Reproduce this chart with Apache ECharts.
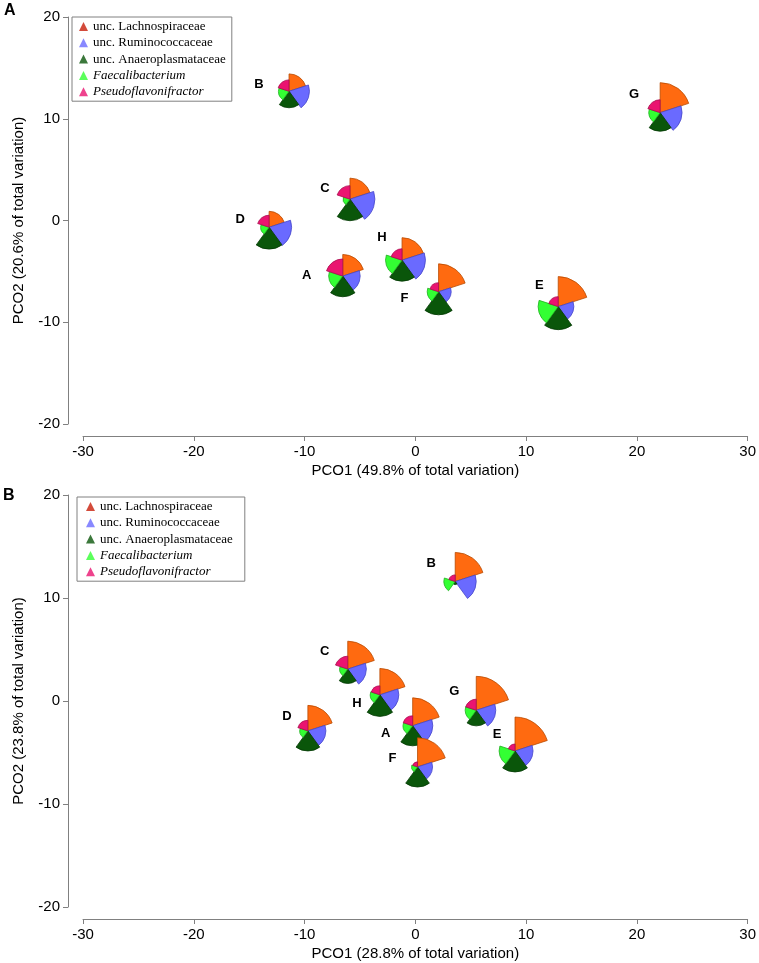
<!DOCTYPE html>
<html><head><meta charset="utf-8">
<script src="https://cdn.jsdelivr.net/npm/echarts@6/dist/echarts.min.js"></script>
<style>html,body{margin:0;padding:0;background:#fff}#c{width:759px;height:963px}</style>
</head><body><div id="c"></div>
<script>
// ---------- data ----------
const taxa = ['unc. Lachnospiraceae','unc. Ruminococcaceae','unc. Anaeroplasmataceae','Faecalibacterium','Pseudoflavonifractor'];
const samples = ['A','B','C','D','E','F','G','H'];
const xTicks = [-30,-20,-10,0,10,20,30];
const yTicks = [-20,-10,0,10,20];

// Panel A (PCO1 49.8 %, PCO2 20.6 %)
const aPCO1 = [-6.55, -11.4, -5.9, -13.2, 12.9, 2.1, 22.1, -1.2];
const aPCO2 = [-5.46, 12.7, 2.1, -0.66, -8.46, -7.0, 10.6, -3.9];
const aLachno  = [0.72, 0.58, 0.70, 0.53, 1.00, 0.93, 1.00, 0.75];
const aRumino  = [0.58, 0.68, 0.83, 0.75, 0.52, 0.42, 0.73, 0.78];
const aAnaero  = [0.69, 0.55, 0.72, 0.73, 0.77, 0.77, 0.62, 0.70];
const aFaecali = [0.47, 0.35, 0.23, 0.28, 0.67, 0.38, 0.38, 0.55];
const aPseudo  = [0.57, 0.38, 0.45, 0.40, 0.33, 0.30, 0.43, 0.38];

// Panel B (PCO1 28.8 %, PCO2 23.8 %)
const bPCO1 = [-0.24, 3.6, -6.1, -9.7, 9.0, 0.2, 5.5, -3.2];
const bPCO2 = [-2.4, 11.6, 3.1, -2.9, -4.85, -6.4, -0.9, 0.6];
const bLachno  = [0.93, 0.97, 0.93, 0.85, 1.13, 0.97, 1.13, 0.88];
const bRumino  = [0.67, 0.70, 0.62, 0.60, 0.60, 0.50, 0.65, 0.63];
const bAnaero  = [0.67, 0.10, 0.48, 0.67, 0.70, 0.67, 0.52, 0.72];
const bFaecali = [0.32, 0.38, 0.27, 0.27, 0.53, 0.20, 0.37, 0.32];
const bPseudo  = [0.33, 0.22, 0.43, 0.35, 0.23, 0.17, 0.37, 0.30];

// ---------- styles / layout ----------
const R_PX = 30; // glyph radius (px) for a value of 1
const FILL   = ['#ff6a10','#6a6aff','#0a560a','#33ff33','#ea1470'];
const STROKE = ['#b84a00','#4646c8','#033803','#20b020','#a80a4c'];
const LEGEND_COL = ['#c81e0a','#6a6aff','#0a560a','#33ff33','#ea1470'];
const labelOffA = [[-36,-1],[-30,-7],[-25,-11],[-29,-8],[-19,-21],[-34,7],[-26,-18],[-20,-23]];
const labelOffB = [[-27,8],[-24,-18],[-23,-18],[-21,-14],[-18,-17],[-25,-8],[-22,-19],[-23,9]];
const FONT = '"Liberation Sans", Arial, sans-serif';

function rows(x, y, s1, s2, s3, s4, s5) {
  return samples.map((s, i) => [x[i], y[i], s1[i], s2[i], s3[i], s4[i], s5[i]]);
}

function glyphRender(offsets) {
  return function (params, api) {
    const i = params.dataIndex;
    const pt = api.coord([api.value(0), api.value(1)]);
    const children = [];
    const step = 2 * Math.PI / 5;
    for (let k = 0; k < 5; k++) {
      const start = -Math.PI / 2 + k * step;
      children.push({
        type: 'sector',
        shape: { cx: pt[0], cy: pt[1], r0: 0, r: api.value(2 + k) * R_PX,
                 startAngle: start, endAngle: start + step, clockwise: true },
        style: { fill: FILL[k], stroke: STROKE[k], lineWidth: 0.8 }
      });
    }
    const off = offsets[i];
    children.push({
      type: 'text', x: pt[0] + off[0], y: pt[1] + off[1], z2: 10,
      style: { text: samples[i], fill: '#000', font: 'bold 13px ' + FONT,
               align: 'center', verticalAlign: 'middle' }
    });
    return { type: 'group', children };
  };
}

function xAxis(gi, name) {
  return {
    gridIndex: gi, type: 'value', min: -30, max: 30, interval: 10, offset: 12,
    name, nameLocation: 'middle', nameGap: 27,
    nameTextStyle: { color: '#000', fontSize: 15, fontFamily: FONT },
    axisLine: { show: true, onZero: false, lineStyle: { color: '#808080', width: 1 } },
    axisTick: { show: true, length: 5, lineStyle: { color: '#808080' } },
    splitLine: { show: false },
    axisLabel: { color: '#000', fontSize: 15, fontFamily: FONT, margin: 8,
                 customValues: xTicks }
  };
}
function yAxis(gi, name) {
  return {
    gridIndex: gi, type: 'value', min: -20, max: 20, interval: 10, offset: 15,
    name, nameLocation: 'middle', nameGap: 42,
    nameTextStyle: { color: '#000', fontSize: 15, fontFamily: FONT },
    axisLine: { show: true, onZero: false, lineStyle: { color: '#808080', width: 1 } },
    axisTick: { show: true, length: 5, lineStyle: { color: '#808080' } },
    splitLine: { show: false },
    axisLabel: { color: '#000', fontSize: 15, fontFamily: FONT, margin: 8 }
  };
}

const legendData = taxa.map((t, k) => ({
  name: t, icon: 'triangle', itemStyle: { color: LEGEND_COL[k] },
  textStyle: k >= 3 ? { fontStyle: 'italic' } : {}
}));
function legend(left, top, padding) {
  return {
    left, top, orient: 'vertical', padding, itemGap: 3.3, itemWidth: 9, itemHeight: 9,
    borderColor: '#808080', borderWidth: 1, borderRadius: 0, selectedMode: false,
    textStyle: { fontFamily: '"Liberation Serif", "Times New Roman", serif', fontSize: 13,
                 color: '#000', lineHeight: 13 },
    data: legendData
  };
}

const chart = echarts.init(document.getElementById('c'), null, { renderer: 'canvas' });
chart.setOption({
  backgroundColor: '#fff',
  animation: false,
  title: [
    { text: 'A', left: 4, top: 3, padding: 0, textStyle: { fontSize: 16, fontWeight: 'bold', fontFamily: FONT, color: '#000' } },
    { text: 'B', left: 3, top: 488, padding: 0, textStyle: { fontSize: 16, fontWeight: 'bold', fontFamily: FONT, color: '#000' } }
  ],
  grid: [
    { left: 83, right: 9, top: 17, height: 407 },
    { left: 83, right: 9, top: 495, height: 412 }
  ],
  xAxis: [xAxis(0, 'PCO1 (49.8% of total variation)'), xAxis(1, 'PCO1 (28.8% of total variation)')],
  yAxis: [yAxis(0, 'PCO2 (20.6% of total variation)'), yAxis(1, 'PCO2 (23.8% of total variation)')],
  legend: [legend(72, 17, [3, 6, 3, 7]), legend(77, 497, [3, 12, 3, 9])],
  series: [
    {
      name: 'panelA', type: 'custom', xAxisIndex: 0, yAxisIndex: 0,
      renderItem: glyphRender(labelOffA), encode: { x: 0, y: 1 },
      data: rows(aPCO1, aPCO2, aLachno, aRumino, aAnaero, aFaecali, aPseudo), z: 2
    },
    {
      name: 'panelB', type: 'custom', xAxisIndex: 1, yAxisIndex: 1,
      renderItem: glyphRender(labelOffB), encode: { x: 0, y: 1 },
      data: rows(bPCO1, bPCO2, bLachno, bRumino, bAnaero, bFaecali, bPseudo), z: 2
    }
  ].concat(taxa.map((t, k) => ({
    name: t, type: 'scatter', xAxisIndex: 0, yAxisIndex: 0, data: [],
    itemStyle: { color: LEGEND_COL[k] }
  })))
});
</script></body></html>
